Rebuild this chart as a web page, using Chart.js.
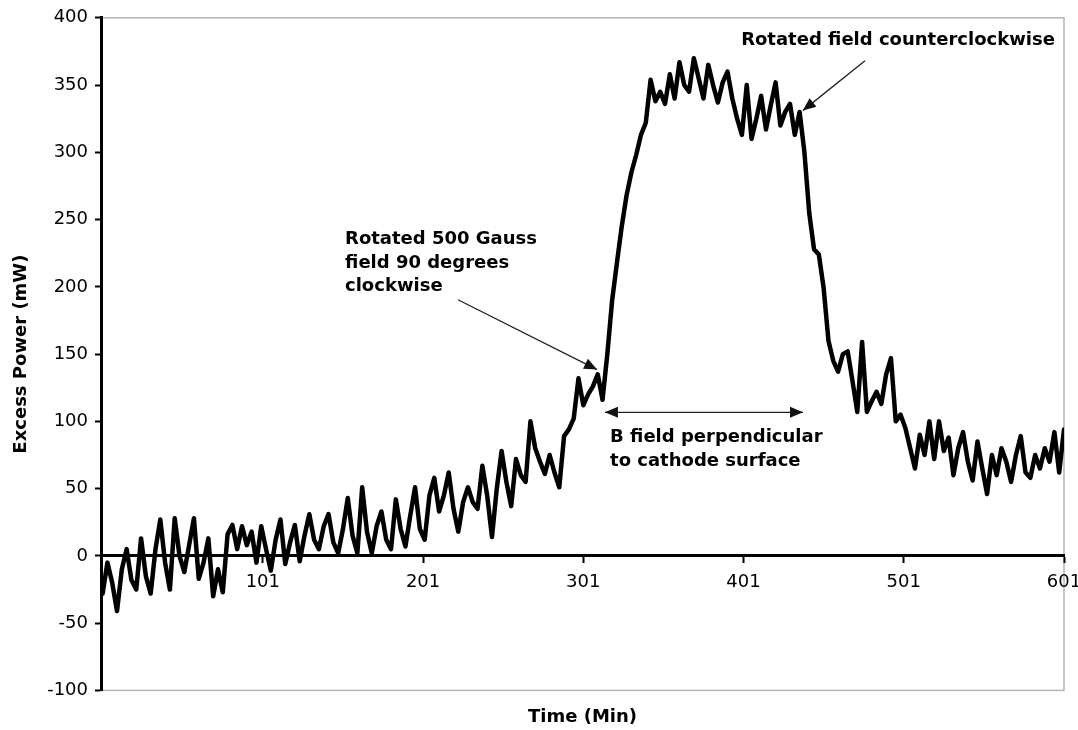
<!DOCTYPE html>
<html><head><meta charset="utf-8">
<script src="https://cdn.jsdelivr.net/npm/chart.js@4.4.1/dist/chart.umd.min.js"></script>
<style>html,body{margin:0;padding:0;background:#fff;}#c{display:block;}</style>
</head><body>
<canvas id="c" width="1078" height="730"></canvas>
<script>
// Time (minutes) of each sample
const timeMin = [
  1,4,7,10,13,16,19,22,25,28,
  31,34,37,40,43,46,49,52,55,58,
  61,64,67,70,73,76,79,82,85,88,
  91,94,97,100,103,106,109,112,115,118,
  121,124,127,130,133,136,139,142,145,148,
  151,154,157,160,163,166,169,172,175,178,
  181,184,187,190,193,196,199,202,205,208,
  211,214,217,220,223,226,229,232,235,238,
  241,244,247,250,253,256,259,262,265,268,
  271,274,277,280,283,286,289,292,295,298,
  301,304,307,310,313,316,319,322,325,328,
  331,334,337,340,343,346,349,352,355,358,
  361,364,367,370,373,376,379,382,385,388,
  391,394,397,400,403,406,409,412,415,418,
  421,424,427,430,433,436,439,442,445,448,
  451,454,457,460,463,466,469,472,475,478,
  481,484,487,490,493,496,499,502,505,508,
  511,514,517,520,523,526,529,532,535,538,
  541,544,547,550,553,556,559,562,565,568,
  571,574,577,580,583,586,589,592,595,598,
  601
];
// Excess power (mW)
const excessPower = [
  -28,-5,-20,-41,-10,5,-18,-25,13,-15,
  -28,5,27,-5,-25,28,0,-12,8,28,
  -17,-5,13,-30,-10,-27,16,23,5,22,
  8,18,-5,22,5,-11,12,27,-6,10,
  23,-4,15,31,12,5,22,31,10,2,
  20,43,15,2,51,18,2,22,33,12,
  5,42,20,7,30,51,20,12,45,58,
  33,45,62,35,18,40,51,40,35,67,
  45,14,50,78,55,37,72,60,55,100,
  80,70,61,75,62,51,89,94,102,132,
  112,120,126,135,116,150,190,218,245,268,
  285,298,313,322,354,338,345,336,358,340,
  367,350,345,370,355,340,365,350,337,352,
  360,340,325,313,350,310,325,342,317,335,
  352,320,330,336,313,330,300,255,228,224,
  199,160,145,137,150,152,130,107,159,107,
  115,122,113,135,147,100,105,95,80,65,
  90,75,100,72,100,78,88,60,80,92,
  70,56,85,65,46,75,60,80,70,55,
  75,89,62,58,75,65,80,70,92,62,
  94
];
const xTickValues = [101, 201, 301, 401, 501, 601];
const yMin = -100, yMax = 400, yStep = 50;
const xTitle = 'Time (Min)';
const yTitle = 'Excess Power (mW)';

// Annotation texts (anchored in data space: time, power)
const noteTexts = [
  { lines: ['Rotated field counterclockwise'], at: [399.5, 383] },
  { lines: ['Rotated 500 Gauss', 'field 90 degrees', 'clockwise'], at: [152.3, 235] },
  { lines: ['B field perpendicular', 'to cathode surface'], at: [317.7, 88] }
];
const noteArrows = [
  { from: [476.8, 368], to: [438.0, 331], both: false },
  { from: [222.8, 190.4], to: [309.6, 138.5], both: false },
  { from: [314.5, 106.7], to: [438.1, 106.7], both: true }
];

const FONT = 'DejaVu Sans';

const framePlugin = {
  id: 'frame',
  beforeDraw(chart) {
    const { ctx, chartArea: a } = chart;
    ctx.save();
    ctx.strokeStyle = '#b4b4b4';
    ctx.lineWidth = 1.5;
    ctx.strokeRect(a.left, a.top, a.right - a.left, a.bottom - a.top);
    ctx.restore();
  }
};

function drawHead(ctx, x1, y1, x2, y2) {
  const ang = Math.atan2(y2 - y1, x2 - x1);
  const len = 13, half = 5.5;
  ctx.beginPath();
  ctx.moveTo(x2, y2);
  ctx.lineTo(x2 - len * Math.cos(ang) + half * Math.sin(ang), y2 - len * Math.sin(ang) - half * Math.cos(ang));
  ctx.lineTo(x2 - len * Math.cos(ang) - half * Math.sin(ang), y2 - len * Math.sin(ang) + half * Math.cos(ang));
  ctx.closePath();
  ctx.fill();
}

const notesPlugin = {
  id: 'notes',
  afterDraw(chart) {
    const { ctx } = chart;
    const xs = chart.scales.x, ys = chart.scales.y;
    ctx.save();
    ctx.fillStyle = '#000';
    ctx.font = 'bold 18px "' + FONT + '"';
    ctx.textAlign = 'left';
    ctx.textBaseline = 'middle';
    noteTexts.forEach(n => {
      const x = xs.getPixelForValue(n.at[0]);
      const y = ys.getPixelForValue(n.at[1]);
      n.lines.forEach((l, i) => ctx.fillText(l, x, y + i * 23.5));
    });
    ctx.strokeStyle = '#222';
    ctx.fillStyle = '#111';
    ctx.lineWidth = 1.3;
    noteArrows.forEach(a => {
      const x1 = xs.getPixelForValue(a.from[0]), y1 = ys.getPixelForValue(a.from[1]);
      const x2 = xs.getPixelForValue(a.to[0]), y2 = ys.getPixelForValue(a.to[1]);
      ctx.beginPath();
      ctx.moveTo(x1, y1);
      ctx.lineTo(x2, y2);
      ctx.stroke();
      drawHead(ctx, x1, y1, x2, y2);
      if (a.both) drawHead(ctx, x2, y2, x1, y1);
    });
    ctx.restore();
  }
};

new Chart(document.getElementById('c'), {
  type: 'line',
  data: {
    datasets: [{
      data: timeMin.map((t, i) => ({ x: t, y: excessPower[i] })),
      borderColor: '#000',
      borderWidth: 4.5,
      pointRadius: 0,
      tension: 0,
      fill: false,
      borderJoinStyle: 'round',
      borderCapStyle: 'round'
    }]
  },
  options: {
    responsive: false,
    animation: false,
    layout: { padding: { top: 15, right: 14, bottom: 0, left: 0 } },
    plugins: {
      legend: { display: false },
      tooltip: { enabled: false },
      title: {
        display: true, position: 'bottom', fullSize: false, text: xTitle, color: '#000',
        font: { family: FONT, size: 18, weight: 'bold' },
        padding: { top: 16, bottom: 2 }
      }
    },
    scales: {
      x: {
        type: 'linear', min: 0, max: 601, position: { y: 0 },
        afterBuildTicks: s => { s.ticks = xTickValues.map(v => ({ value: v })); },
        afterFit: s => { s.paddingLeft = 0; s.paddingRight = 0; },
        grid: { display: true, drawOnChartArea: false, drawTicks: true, tickLength: 6, tickColor: '#000', tickWidth: 2 },
        border: { display: true, color: '#000', width: 3 },
        ticks: { color: '#000', font: { family: FONT, size: 18 }, padding: 10, maxRotation: 0, autoSkip: false, callback: v => String(v) }
      },
      y: {
        type: 'linear', min: yMin, max: yMax, position: 'left',
        afterFit: s => { s.width = 101; },
        grid: { display: true, drawOnChartArea: false, drawTicks: true, tickLength: 6, tickColor: '#000', tickWidth: 2 },
        border: { display: true, color: '#000', width: 3 },
        ticks: { stepSize: yStep, color: '#000', font: { family: FONT, size: 18 }, padding: 7 },
        title: { display: true, text: yTitle, color: '#000', font: { family: FONT, size: 18, weight: 'bold' }, padding: { top: 11, bottom: 0 } }
      }
    }
  },
  plugins: [framePlugin, notesPlugin]
});
</script>
</body></html>
